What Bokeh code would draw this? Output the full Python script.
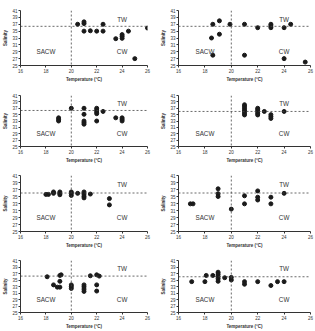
from bokeh.plotting import figure
from bokeh.layouts import column, row
from bokeh.models import FixedTicker, Label, Span, Range1d
from bokeh.embed import file_html
from bokeh.resources import INLINE

# Seasonal T-S samples (temperature °C, salinity)
titles = ["Autumn/08", "Autumn/09", "Winter/08", "Winter/09",
          "Spring/08", "Spring/09", "Summer/09", "Summer/10"]

autumn08_t = [20.5, 21.0, 21.0, 21.0, 21.5, 22.0, 22.5, 22.5, 23.5, 24.0, 24.0, 24.0, 24.5, 25.0, 26.0]
autumn08_s = [37.0, 37.7, 37.2, 35.0, 35.1, 35.0, 37.0, 35.0, 32.8, 34.0, 33.5, 32.9, 35.0, 27.0, 35.9]

autumn09_t = [18.6, 19.1, 19.1, 18.5, 18.6, 19.9, 21.0, 21.0, 22.0, 23.0, 23.0, 23.0, 24.0, 24.5, 24.0, 25.6]
autumn09_s = [37.0, 38.0, 34.1, 33.0, 28.0, 37.0, 37.0, 28.0, 36.0, 37.0, 36.5, 36.0, 36.0, 37.0, 27.0, 26.0]

winter08_t = [19.0, 19.0, 19.0, 20.0, 21.0, 21.0, 21.0, 21.0, 21.0, 22.0, 22.0, 22.0, 22.0, 22.0, 22.5, 23.5, 24.0, 24.0, 24.0]
winter08_s = [34.0, 33.5, 33.0, 37.0, 37.0, 35.1, 33.0, 32.5, 32.0, 37.0, 36.4, 35.8, 35.3, 33.0, 36.0, 34.0, 34.0, 33.5, 33.0]

winter09_t = [21.0, 21.0, 21.0, 21.0, 21.0, 21.0, 21.0, 22.0, 22.0, 22.0, 22.0, 22.0, 22.5, 23.0, 23.0, 23.0, 24.0]
winter09_s = [38.1, 37.6, 37.0, 36.4, 36.0, 35.4, 34.9, 37.0, 36.5, 36.0, 35.4, 34.9, 36.0, 35.0, 34.4, 33.8, 36.0]

spring08_t = [18.0, 18.2, 18.6, 18.6, 19.1, 19.1, 19.1, 20.0, 20.0, 20.0, 20.5, 21.0, 21.0, 21.0, 21.0, 21.5, 23.0, 23.0]
spring08_s = [35.6, 35.6, 36.3, 35.9, 36.3, 35.9, 35.5, 36.3, 35.9, 35.3, 35.9, 36.3, 35.7, 35.1, 34.6, 35.7, 34.4, 32.6]

spring09_t = [16.9, 17.1, 19.0, 19.0, 19.0, 20.0, 21.0, 21.0, 22.0, 22.0, 22.0, 23.0, 23.0, 24.0]
spring09_s = [32.9, 32.9, 37.2, 35.8, 35.0, 31.4, 35.2, 32.9, 36.6, 34.8, 34.0, 34.8, 32.9, 35.9]

summer09_t = [18.1, 18.6, 19.1, 19.2, 19.1, 18.9, 19.1, 20.0, 20.0, 20.0, 21.0, 21.0, 21.0, 21.0, 21.5, 22.0, 22.2, 22.0, 22.0]
summer09_s = [36.0, 33.5, 36.4, 36.6, 34.6, 32.8, 32.8, 33.5, 33.0, 32.4, 33.5, 32.9, 32.2, 31.5, 36.3, 36.6, 36.2, 33.5, 31.6]

summer10_t = [17.0, 18.0, 18.1, 18.6, 19.0, 19.0, 19.0, 19.0, 19.0, 19.5, 20.0, 20.0, 21.0, 21.0, 22.0, 23.0, 23.5, 24.0]
summer10_s = [34.5, 34.5, 36.4, 36.4, 37.4, 36.8, 36.1, 35.4, 34.6, 35.7, 35.8, 35.0, 34.5, 33.7, 34.5, 33.3, 34.5, 34.5]

temps = [autumn08_t, autumn09_t, winter08_t, winter09_t, spring08_t, spring09_t, summer09_t, summer10_t]
sals = [autumn08_s, autumn09_s, winter08_s, winter09_s, spring08_s, spring09_s, summer09_s, summer10_s]

# water-mass boundaries
t_limit = 20
s_limits = [36.4, 36.4, 36.3, 36.0, 36.0, 36.0, 36.2, 36.0]

# water-mass labels: (name, temperature, salinity)
mass_names = ["TW", "SACW", "CW"]
mass_t = [24.0, 18.0, 24.0]
mass_s = [38.5, 29.0, 29.0]

x_ticks = [16, 18, 20, 22, 24, 26]
y_ticks = [25, 27, 29, 31, 33, 35, 37, 39, 41]

FONT = "Liberation Sans"
row_heights = [85, 80, 85, 81]
col_widths = [157, 158]
left_borders = [16, 21]
right_borders = [10, 5]
bottom_borders = [20, 15, 16, 14]


def make_panel(i):
    r, c = divmod(i, 2)
    p = figure(width=col_widths[c], height=row_heights[r],
               x_range=Range1d(16, 26), y_range=Range1d(25, 41),
               output_backend="svg", toolbar_location=None,
               min_border_left=left_borders[c], min_border_right=right_borders[c],
               min_border_top=10, min_border_bottom=bottom_borders[r])
    p.outline_line_color = None
    p.grid.visible = False
    p.background_fill_color = "white"
    p.border_fill_color = "white"

    for ax, ticks in ((p.xaxis, x_ticks), (p.yaxis, y_ticks)):
        ax.ticker = FixedTicker(ticks=ticks)
        ax.minor_tick_line_color = None
        ax.major_tick_out = 2
        ax.major_tick_in = 0
        ax.major_label_standoff = 1
        ax.axis_label_standoff = 1
        ax.axis_line_color = "#333333"
        ax.major_tick_line_color = "#333333"
        ax.major_label_text_font = FONT
        ax.major_label_text_font_size = "4.5px"
        ax.major_label_text_color = "#333333"
        ax.axis_label_text_font = FONT
        ax.axis_label_text_font_size = "4.5px"
        ax.axis_label_text_font_style = "bold"
        ax.axis_label_text_color = "#333333"
    p.xaxis.axis_label = "Temperature (°C)"
    p.yaxis.axis_label = "Salinity"

    p.add_layout(Span(location=s_limits[i], dimension="width",
                      line_color="#444444", line_dash="2 2", line_width=0.8))
    p.add_layout(Span(location=t_limit, dimension="height",
                      line_color="#444444", line_dash="2 2", line_width=0.8))

    p.scatter(temps[i], sals[i], size=4, color="#1a1a1a")

    p.add_layout(Label(x=19.8, y=41, text=titles[i], text_align="center",
                       text_baseline="bottom", text_font=FONT,
                       text_font_size="5px", text_font_style="bold",
                       text_color="#333333"))
    for name, tx, sy in zip(mass_names, mass_t, mass_s):
        p.add_layout(Label(x=tx, y=sy, text=name, text_align="center",
                           text_baseline="middle", text_font=FONT,
                           text_font_size="6.3px", text_color="#333333"))
    return p


panels = [make_panel(i) for i in range(8)]
layout = column(*[row(panels[2 * r], panels[2 * r + 1]) for r in range(4)])

open("out.html", "w").write(file_html(layout, INLINE))
